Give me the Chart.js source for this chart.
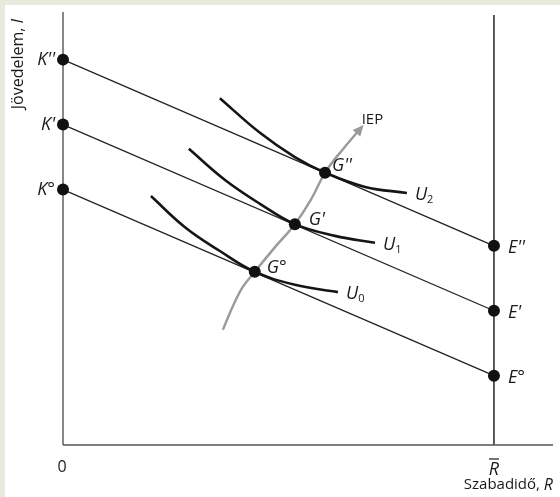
<!DOCTYPE html>
<html>
<head>
<meta charset="utf-8">
<script src="https://cdn.jsdelivr.net/npm/chart.js@4"></script>
<style>
  html, body { margin: 0; padding: 0; background: #e9e9dd; }
  #wrap { width: 560px; height: 497px; }
</style>
</head>
<body>
<div id="wrap"><canvas id="c" width="560" height="497"></canvas></div>
<script>
// ---- data (leisure R on x, income I on y) ----
const R_BAR = 10;
const X_MAX = 11.37;
const Y_MAX = 10;
const kValues = [5.9, 7.4, 8.9];       // K°, K', K''
const eValues = [1.6, 3.1, 4.6];       // E°, E', E''
const kLabels = ["K°", "K'", "K''"];
const eLabels = ["E°", "E'", "E''"];
const gPoints = [{x: 4.45, y: 4.0}, {x: 5.38, y: 5.1}, {x: 6.08, y: 6.29}];
const gLabels = ["G°", "G'", "G''"];
const u0 = [{x:2.04,y:5.75},{x:2.83,y:5.03},{x:3.64,y:4.48},{x:4.45,y:4.0},{x:5.38,y:3.70},{x:6.38,y:3.53}];
const u1 = [{x:2.92,y:6.84},{x:3.76,y:6.12},{x:4.57,y:5.57},{x:5.38,y:5.1},{x:6.31,y:4.83},{x:7.24,y:4.67}];
const u2 = [{x:3.64,y:8.01},{x:4.57,y:7.21},{x:5.38,y:6.65},{x:6.08,y:6.29},{x:7.01,y:5.96},{x:7.98,y:5.82}];
const uSubs = ["0", "1", "2"];
const iep = [{x:3.71,y:2.66},{x:3.92,y:3.16},{x:4.14,y:3.60},{x:4.45,y:4.0},{x:4.92,y:4.57},{x:5.38,y:5.1},{x:5.76,y:5.68},{x:6.08,y:6.29},{x:6.52,y:6.86},{x:6.93,y:7.34}];
const axisTop = 10;
const rBarTop = 9.93;

// ---- datasets ----
const datasets = [];
datasets.push({ label: 'dots', data: [...gPoints,
    ...kValues.map(v => ({x: 0, y: v})), ...eValues.map(v => ({x: R_BAR, y: v}))],
  showLine: false, pointRadius: 6, pointBackgroundColor: '#111', pointBorderWidth: 0, order: 0, clip: false });
[u0, u1, u2].forEach((u, i) => datasets.push({ label: 'U' + i, data: u, showLine: true, tension: 0.4,
  borderColor: '#151515', borderWidth: 2.6, pointRadius: 0, order: 1, clip: false }));
datasets.push({ label: 'IEP', data: iep, showLine: true, cubicInterpolationMode: 'monotone', borderColor: '#9a9a9a',
  borderWidth: 2.4, pointRadius: 0, order: 2, clip: false });
kValues.forEach((k, i) => datasets.push({ label: 'budget' + i, data: [{x: 0, y: k}, {x: R_BAR, y: eValues[i]}],
  showLine: true, tension: 0, borderColor: '#222', borderWidth: 1.3, pointRadius: 0, order: 3, clip: false }));
datasets.push({ label: 'yaxis', data: [{x: 0, y: 0}, {x: 0, y: axisTop}], showLine: true, borderColor: '#555', borderWidth: 1.4, pointRadius: 0, order: 4, clip: false });
datasets.push({ label: 'xaxis', data: [{x: 0, y: 0}, {x: X_MAX, y: 0}], showLine: true, borderColor: '#555', borderWidth: 1.4, pointRadius: 0, order: 4, clip: false });
datasets.push({ label: 'rbar', data: [{x: R_BAR, y: 0}, {x: R_BAR, y: rBarTop}], showLine: true, borderColor: '#333', borderWidth: 1.6, pointRadius: 0, order: 4, clip: false });

const ITAL = 'italic 18px "Open Sans"';
const REG = '16px "Open Sans"';
const REGS = '15px "Open Sans"';

function drawParts(ctx, parts, x, y, align) {
  let w = 0;
  parts.forEach(p => { ctx.font = p.font; w += ctx.measureText(p.t).width; });
  let cx = align === 'right' ? x - w : (align === 'center' ? x - w / 2 : x);
  parts.forEach(p => {
    ctx.font = p.font;
    ctx.fillText(p.t, cx, y + (p.dy || 0));
    cx += ctx.measureText(p.t).width;
  });
}

const bgPlugin = {
  id: 'bg',
  beforeDraw(chart) {
    const ctx = chart.ctx;
    ctx.save();
    ctx.fillStyle = '#e9e9dd';
    ctx.fillRect(0, 0, chart.width, chart.height);
    ctx.fillStyle = '#ffffff';
    ctx.fillRect(5, 5, chart.width - 5, chart.height - 5);
    ctx.restore();
  }
};

const labelPlugin = {
  id: 'labels',
  afterDatasetsDraw(chart) {
    const ctx = chart.ctx;
    const xs = chart.scales.x, ys = chart.scales.y;
    const px = v => xs.getPixelForValue(v), py = v => ys.getPixelForValue(v);
    ctx.save();
    ctx.textBaseline = 'middle';
    // arrowhead on IEP
    const meta = chart.getDatasetMeta(datasets.findIndex(d => d.label === 'IEP'));
    const n = meta.data.length;
    const a = meta.data[n - 2], b = meta.data[n - 1];
    const ang = Math.atan2(b.y - a.y, b.x - a.x);
    ctx.fillStyle = '#9a9a9a';
    ctx.beginPath();
    ctx.moveTo(b.x + 3 * Math.cos(ang), b.y + 3 * Math.sin(ang));
    ctx.lineTo(b.x - 8 * Math.cos(ang) + 5 * Math.sin(ang), b.y - 8 * Math.sin(ang) - 5 * Math.cos(ang));
    ctx.lineTo(b.x - 8 * Math.cos(ang) - 5 * Math.sin(ang), b.y - 8 * Math.sin(ang) + 5 * Math.cos(ang));
    ctx.closePath();
    ctx.fill();
    ctx.fillStyle = '#1a1a1a';
    // K labels
    kValues.forEach((k, i) => drawParts(ctx, [{t: kLabels[i], font: ITAL}], px(0) - 8, py(k), 'right'));
    // E labels
    eValues.forEach((e, i) => drawParts(ctx, [{t: eLabels[i], font: ITAL}], px(R_BAR) + 14, py(e) + 2, 'left'));
    // G labels
    const gOff = [[12, -4], [14, -4], [7, -7]];
    gPoints.forEach((g, i) => drawParts(ctx, [{t: gLabels[i], font: ITAL}], px(g.x) + gOff[i][0], py(g.y) + gOff[i][1], 'left'));
    // U labels
    [u0, u1, u2].forEach((u, i) => {
      const last = u[u.length - 1];
      drawParts(ctx, [{t: 'U', font: ITAL}, {t: uSubs[i], font: '11px "Open Sans"', dy: 5}], px(last.x) + 8, py(last.y) + 2, 'left');
    });
    // IEP label
    const tip = iep[iep.length - 1];
    drawParts(ctx, [{t: 'IEP', font: REGS}], px(tip.x) + 0, py(tip.y) - 7, 'left');
    // axis labels
    drawParts(ctx, [{t: '0', font: REG}], px(0) - 1, py(0) + 22, 'center');
    drawParts(ctx, [{t: 'R', font: ITAL}], px(R_BAR), py(0) + 25, 'center');
    ctx.strokeStyle = '#1a1a1a'; ctx.lineWidth = 1.2;
    ctx.beginPath(); ctx.moveTo(px(R_BAR) - 5, py(0) + 14); ctx.lineTo(px(R_BAR) + 5, py(0) + 14); ctx.stroke();
    drawParts(ctx, [{t: 'Szabadidő, ', font: REGS}, {t: 'R', font: 'italic 16px "Open Sans"'}], 553, py(0) + 40, 'right');
    // y title
    ctx.translate(18, 64);
    ctx.rotate(-Math.PI / 2);
    drawParts(ctx, [{t: 'Jövedelem, ', font: '16px "Open Sans"'}, {t: 'I', font: 'italic 17px "Open Sans"'}], 0, 0, 'center');
    ctx.restore();
  }
};

new Chart(document.getElementById('c'), {
  type: 'scatter',
  data: { datasets },
  options: {
    responsive: false,
    animation: false,
    layout: { padding: { left: 63, right: 7, top: 12, bottom: 52 } },
    plugins: { legend: { display: false }, tooltip: { enabled: false } },
    scales: {
      x: { type: 'linear', display: false, min: 0, max: X_MAX },
      y: { type: 'linear', display: false, min: 0, max: Y_MAX }
    }
  },
  plugins: [bgPlugin, labelPlugin]
});
</script>
</body>
</html>
